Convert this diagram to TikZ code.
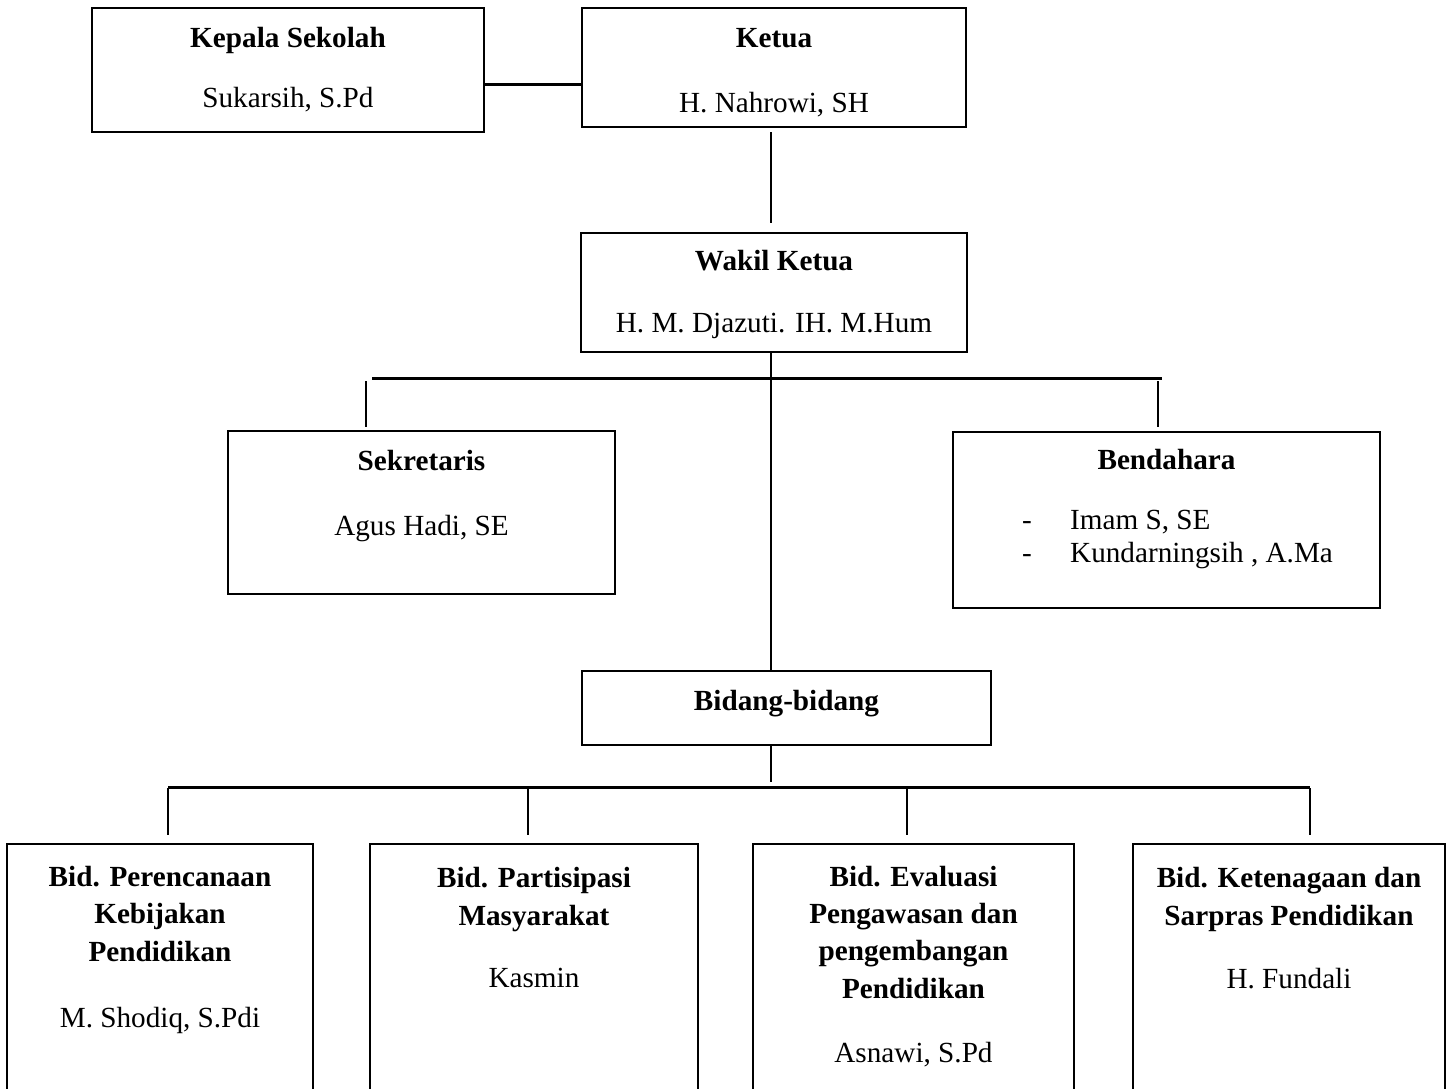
\documentclass[tikz,border=0pt]{standalone}
\usepackage{fontspec}
\setmainfont{Liberation Serif}

\newcommand\orgfont{\fontsize{29.2pt}{37.3pt}\selectfont}

\tikzset{
  orgbox/.style={draw, line width=2.5pt, inner sep=0pt},
  title/.style={font=\orgfont\bfseries, align=center, inner sep=0pt, anchor=base},
  person/.style={font=\orgfont, inner sep=0pt, anchor=base},
  link/.style={line width=1.5pt},
  bar/.style={line width=3pt},
}

\begin{document}
\begin{tikzpicture}[x=1pt, y=-1pt]
\useasboundingbox (0,0) rectangle (1452,1088);
\clip (0,0) rectangle (1452,1088);

% top row
\node[orgbox, minimum width=392pt, minimum height=124pt] (kepala) at (288,70) {};
\node[title] (kepalaT) at (288,47) {Kepala Sekolah};
\node[person] (kepalaN) at (288,107) {Sukarsih, S.Pd};

\node[orgbox, minimum width=384pt, minimum height=119pt] (ketua) at (774,67.5) {};
\node[title] (ketuaT) at (774,47) {Ketua};
\node[person] (ketuaN) at (774,112) {H. Nahrowi, SH};

\node[orgbox, minimum width=386pt, minimum height=119pt] (wakil) at (774,292.5) {};
\node[title] (wakilT) at (774,270) {Wakil Ketua};
\node[person] (wakilN) at (774,332) {H. M. Djazuti. IH. M.Hum};

% second row
\node[orgbox, minimum width=387pt, minimum height=163pt] (sekre) at (421.5,512.5) {};
\node[title] (sekreT) at (421.5,470) {Sekretaris};
\node[person] (sekreN) at (421.5,535) {Agus Hadi, SE};

\node[orgbox, minimum width=427pt, minimum height=176pt] (benda) at (1166.5,520) {};
\node[title] (bendaT) at (1166.5,469) {Bendahara};
% base of a multi-line node = last line
\node[person, anchor=base west, align=left] (bendaN) at (1022,562)
  {\makebox[48pt][l]{-}Imam S, SE\\[-4.3pt]\makebox[48pt][l]{-}Kundarningsih , A.Ma};

\node[orgbox, minimum width=409pt, minimum height=74pt] (bidang) at (786.5,708) {};
\node[title] (bidangT) at (786.5,710) {Bidang-bidang};

% bottom row
\node[orgbox, minimum width=306pt, minimum height=256pt] (bidA) at (160,972) {};
\node[title] (bidAT) at (160,961) {Bid. Perencanaan\\Kebijakan\\Pendidikan};
\node[person] (bidAN) at (160,1027) {M. Shodiq, S.Pdi};

\node[orgbox, minimum width=328pt, minimum height=256pt] (bidB) at (534,972) {};
\node[title] (bidBT) at (534,925) {Bid. Partisipasi\\Masyarakat};
\node[person] (bidBN) at (534,987) {Kasmin};

\node[orgbox, minimum width=321pt, minimum height=256pt] (bidC) at (913.5,972) {};
\node[title] (bidCT) at (913.5,998) {Bid. Evaluasi\\Pengawasan dan\\pengembangan\\Pendidikan};
\node[person] (bidCN) at (913.5,1062) {Asnawi, S.Pd};

\node[orgbox, minimum width=312pt, minimum height=256pt] (bidD) at (1289,972) {};
\node[title] (bidDT) at (1289,925) {Bid. Ketenagaan dan\\Sarpras Pendidikan};
\node[person] (bidDN) at (1289,988) {H. Fundali};

% connectors
\coordinate (spine) at (771,0);
\coordinate (kk) at (0,84);
\draw[bar] (kepala.east |- kk) -- (ketua.west |- kk);
\draw[link, shorten <=4pt, shorten >=9pt] (ketua.south -| spine) -- (wakil.north -| spine);

\coordinate (barTL) at (372,378);
\coordinate (barTR) at (1162,378);
\coordinate (dropL) at (366,381);
\coordinate (dropR) at (1158,381);
\draw[bar] (barTL) -- (barTR);
\draw[link, shorten >=3pt] (dropL) -- (dropL |- sekre.north);
\draw[link, shorten >=4pt] (dropR) -- (dropR |- benda.north);
\draw[link] (wakil.south -| spine) -- (bidang.north -| spine);

\coordinate (barB) at (771,787);
\draw[link, shorten >=5pt] (bidang.south -| spine) -- (barB);
\draw[bar] (168,787) -- (1310,787);
\foreach \b/\x in {bidA/168, bidB/528, bidC/907, bidD/1310}
  \draw[link, shorten >=8pt] (\x,788) -- (\b.north -| \x,0);
\end{tikzpicture}
\end{document}
